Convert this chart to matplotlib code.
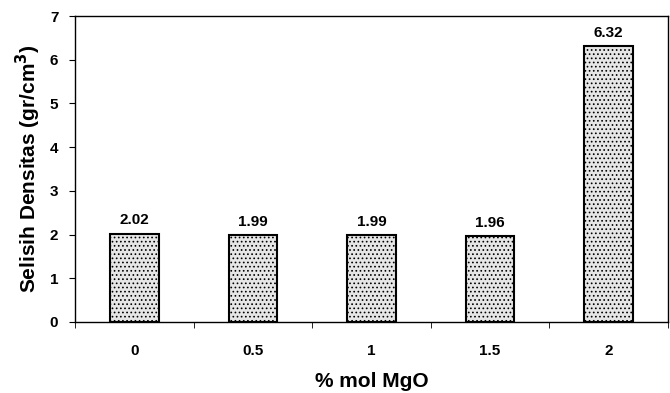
import matplotlib.pyplot as plt
import matplotlib as mpl

# data
categories = ["0", "0.5", "1", "1.5", "2"]
values = [2.02, 1.99, 1.99, 1.96, 6.32]
value_labels = ["2.02", "1.99", "1.99", "1.96", "6.32"]

plt.rcParams["font.family"] = ["Liberation Sans", "DejaVu Sans"]
plt.rcParams["font.weight"] = "bold"
mpl.rcParams["hatch.color"] = "#c6c6c6"
mpl.rcParams["hatch.linewidth"] = 0.7

fig = plt.figure(figsize=(6.7, 3.93), dpi=100)
ax = fig.add_axes([0.112, 0.181, 0.885, 0.778])

x = range(len(categories))
bars = ax.bar(x, values, width=0.41, facecolor="#e6e6e6", edgecolor="black",
              linewidth=1.5, hatch="....")
ax.bar_label(bars, labels=value_labels, padding=4.5, fontsize=11, fontweight="bold")

ax.set_xlim(-0.5, len(categories) - 0.5)
ax.set_ylim(0, 7)
ax.set_yticks(range(0, 8))
ax.set_xticks(x)
ax.set_xticklabels(categories)
# tick marks between categories
ax.set_xticks([i - 0.5 for i in range(len(categories) + 1)], minor=True)
ax.tick_params(axis="x", which="major", length=0, pad=16, labelsize=11)
ax.tick_params(axis="x", which="minor", length=4, direction="out")
ax.tick_params(axis="y", length=4, direction="out", labelsize=11, pad=8)

for s in ax.spines.values():
    s.set_linewidth(1.0)

ax.set_xlabel("% mol MgO", fontsize=15, fontweight="bold", labelpad=10)
ax.set_ylabel("Selisih Densitas (gr/cm$^\\mathbf{3}$)", fontsize=15,
              fontweight="bold", labelpad=5)

fig.savefig("out.png", dpi=100)
